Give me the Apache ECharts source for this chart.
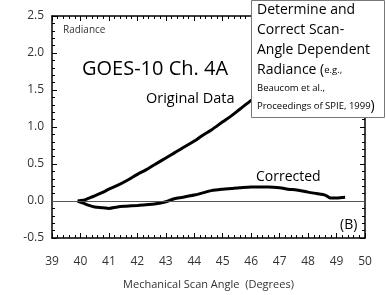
<!DOCTYPE html>
<html>
<head>
<meta charset="utf-8">
<script src="https://cdn.jsdelivr.net/npm/echarts@6/dist/echarts.min.js"></script>
<style>
  html, body { margin: 0; padding: 0; background: #fff; }
  #chart { width: 386px; height: 295px; }
</style>
</head>
<body>
<div id="chart"></div>
<script>
// scan angle (degrees) and radiance
const originalAngle = [39.9, 40.1, 40.3, 40.5, 40.8, 41.0, 41.3, 41.6, 42.0, 42.3, 42.6, 43.0, 43.3, 43.6, 44.0, 44.3, 44.6, 45.0, 45.3, 45.6, 46.0, 46.3, 46.6, 47.0]
const originalValue = [0.0, 0.01, 0.04, 0.07, 0.12, 0.16, 0.21, 0.27, 0.36, 0.42, 0.49, 0.58, 0.65, 0.72, 0.81, 0.89, 0.96, 1.07, 1.15, 1.24, 1.36, 1.44, 1.52, 1.62]

const correctedAngle = [39.9, 40.1, 40.3, 40.5, 40.8, 41.0, 41.3, 41.6, 42.0, 42.3, 42.6, 43.0, 43.3, 43.6, 44.0, 44.3, 44.6, 45.0, 45.3, 45.6, 46.0, 46.3, 46.6, 47.0, 47.3, 47.6, 48.0, 48.3, 48.6, 48.8, 49.0, 49.3]
const correctedValue = [0.0, -0.03, -0.06, -0.08, -0.09, -0.1, -0.08, -0.07, -0.06, -0.05, -0.04, -0.01, 0.03, 0.05, 0.08, 0.11, 0.14, 0.16, 0.17, 0.18, 0.19, 0.19, 0.19, 0.18, 0.16, 0.15, 0.12, 0.1, 0.08, 0.04, 0.04, 0.05]

const xTickLabels = [39, 40, 41, 42, 43, 44, 45, 46, 47, 48, 49, 50]
const yTickLabels = [-0.5, 0.0, 0.5, 1.0, 1.5, 2.0, 2.5]

const xTicks = { min: 39, max: 50, interval: 1 }
const yTicks = { min: -0.5, max: 2.5, interval: 0.5 }

const pair = (xs, ys) => xs.map((x, i) => [x, ys[i]])

const chart = echarts.init(document.getElementById('chart'))

const font = 'Open Sans, Noto Sans, sans-serif'

// every axis gets its own fresh style objects; axis labels stay off
// (custom axisLabel settings hid the axis lines in this build)
const frame = (extra) => Object.assign({
  axisLine: { show: true, onZero: false, lineStyle: { color: '#000', width: 1.5 } },
  axisTick: { show: true, inside: true, length: 5, lineStyle: { color: '#000', width: 1 } },
  minorTick: { show: true, splitNumber: 5, length: 3, lineStyle: { color: '#000', width: 1 } },
  splitLine: { show: false },
  axisLabel: { show: false }
}, extra)

chart.setOption({
  animation: false,
  grid: { left: 52, right: 21, top: 16, bottom: 52 },
  xAxis: [
    frame({
      type: 'value', ...xTicks,
      name: 'Mechanical Scan Angle  (Degrees)',
      nameLocation: 'middle',
      nameGap: 41,
      nameTextStyle: { color: '#333', fontSize: 11, fontFamily: font }
    }),
    frame({ type: 'value', position: 'top', ...xTicks })
  ],
  yAxis: [
    frame({ type: 'value', ...yTicks }),
    frame({ type: 'value', position: 'right', ...yTicks })
  ],
  series: [
    {
      name: 'Original Data',
      type: 'line',
      data: pair(originalAngle, originalValue),
      showSymbol: false,
      smooth: 0.3,
      lineStyle: { color: '#000', width: 3 },
      z: 3
    },
    {
      name: 'Corrected',
      type: 'line',
      data: pair(correctedAngle, correctedValue),
      showSymbol: false,
      smooth: 0.3,
      lineStyle: { color: '#000', width: 3 },
      z: 3,
      markLine: {
        silent: true,
        symbol: 'none',
        label: { show: false },
        lineStyle: { color: '#555', width: 1, type: 'solid' },
        data: [{ yAxis: 0 }]
      }
    }
  ]
})

// tick labels placed through the axes' own scale
const finder = { xAxisIndex: 0, yAxisIndex: 0 }
const tickTexts = []
xTickLabels.forEach(v => {
  const p = chart.convertToPixel(finder, [v, yTicks.min])
  tickTexts.push({
    type: 'text', x: p[0], y: p[1] + 24,
    style: { text: String(v), align: 'center', verticalAlign: 'middle', fontSize: 12, fontFamily: font, fill: '#333' }
  })
})
yTickLabels.forEach(v => {
  const p = chart.convertToPixel(finder, [xTicks.min, v])
  tickTexts.push({
    type: 'text', x: p[0] - 8, y: p[1],
    style: { text: v.toFixed(1), align: 'right', verticalAlign: 'middle', fontSize: 12, fontFamily: font, fill: '#333' }
  })
})

chart.setOption({
  graphic: tickTexts.concat([
    { type: 'text', left: 63, top: 25, style: { text: 'Radiance', fontSize: 10, fontFamily: font, fill: '#333' } },
    { type: 'text', left: 82, top: 59, style: { text: 'GOES-10 Ch. 4A', fontSize: 20, fontFamily: font, fill: '#000' } },
    { type: 'text', left: 146, top: 91, style: { text: 'Original Data', fontSize: 14.5, fontFamily: font, fill: '#000' } },
    { type: 'text', left: 256, top: 170, style: { text: 'Corrected', fontSize: 14, fontFamily: font, fill: '#000' } },
    { type: 'text', left: 340, top: 218, style: { text: '(B)', fontSize: 14, fontFamily: font, fill: '#000' } },
    {
      type: 'rect', left: 251, top: 0, z: 10,
      shape: { width: 133, height: 117 },
      style: { fill: '#fff', stroke: '#777', lineWidth: 1 }
    },
    {
      type: 'text', left: 257, top: 3, z: 11,
      style: {
        text: '{b|Determine and}\n{b|Correct Scan-}\n{b|Angle Dependent}\n{b|Radiance (}{s|e.g.,}\n{s|Beaucom et al.,}\n{s|Proceedings of SPIE, 1999}{b|)}',
        fontFamily: font,
        fill: '#000',
        rich: {
          b: { fontSize: 14, lineHeight: 20, fontFamily: font },
          s: { fontSize: 9.5, lineHeight: 16, fontFamily: font }
        }
      }
    }
  ])
})
</script>
</body>
</html>
